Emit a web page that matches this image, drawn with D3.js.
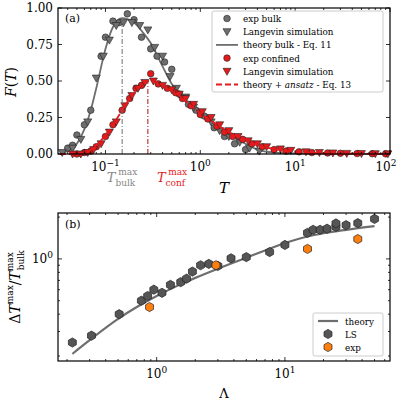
<!DOCTYPE html>
<html><head><meta charset="utf-8">
<script src="https://cdn.jsdelivr.net/npm/d3@7"></script>
<style>body{margin:0;background:#fff}text{font-family:"DejaVu Serif",serif}</style>
</head><body><svg id="c" width="400" height="400"></svg>
<script>
// panel (a)
const bulkTheoryT = [0.033, 0.04, 0.05, 0.06, 0.07, 0.08, 0.1, 0.12, 0.15, 0.2, 0.25, 0.3, 0.4, 0.5, 0.7, 1, 1.5, 2, 3, 4, 6, 10, 100]
const bulkTheoryF = [0.0, 0.02, 0.07, 0.17, 0.3, 0.45, 0.72, 0.87, 0.93, 0.9, 0.83, 0.76, 0.6, 0.48, 0.37, 0.28, 0.19, 0.14, 0.07, 0.03, 0.01, 0.004, 0]
const confTheoryT = [0.033, 0.05, 0.06, 0.07, 0.08, 0.1, 0.12, 0.15, 0.2, 0.25, 0.28, 0.35, 0.45, 0.6, 0.8, 1, 1.5, 2, 3, 4, 6, 10, 20, 40, 100]
const confTheoryF = [0, 0.0, 0.01, 0.03, 0.06, 0.13, 0.2, 0.3, 0.42, 0.48, 0.5, 0.49, 0.45, 0.4, 0.33, 0.28, 0.2, 0.15, 0.1, 0.06, 0.035, 0.015, 0.005, 0.002, 0]
const expBulkT = [0.04, 0.045, 0.05, 0.06, 0.07, 0.09, 0.1, 0.12, 0.14, 0.17, 0.2, 0.24, 0.3, 0.35, 0.42, 0.5, 0.6, 0.75, 0.9, 1.1, 1.4, 1.8, 2.3, 3]
const expBulkF = [0.04, 0.06, 0.13, 0.2, 0.3, 0.67, 0.8, 0.91, 0.9, 0.96, 0.92, 0.8, 0.72, 0.67, 0.63, 0.58, 0.41, 0.34, 0.3, 0.26, 0.18, 0.12, 0.07, 0.03]
const langBulkT = [0.035, 0.045, 0.055, 0.065, 0.08, 0.095, 0.11, 0.13, 0.155, 0.19, 0.23, 0.28, 0.33, 0.4, 0.48, 0.56, 0.7, 0.85, 1.0, 1.3, 1.6, 2, 2.6, 3.3, 4.2]
const langBulkF = [0.01, 0.04, 0.1, 0.22, 0.52, 0.67, 0.78, 0.88, 0.9, 0.9, 0.88, 0.85, 0.73, 0.67, 0.53, 0.45, 0.39, 0.32, 0.28, 0.22, 0.16, 0.12, 0.08, 0.04, 0.02]
const expConfT = [0.05, 0.06, 0.07, 0.08, 0.1, 0.12, 0.15, 0.18, 0.21, 0.24, 0.3, 0.36, 0.45, 0.55, 0.65, 0.8, 1.0, 1.2, 1.5, 1.8, 2.2, 2.8, 3.5, 4.5, 6, 8, 11, 15, 22, 30, 45, 65, 90]
const expConfF = [0, 0.01, 0.02, 0.05, 0.12, 0.2, 0.3, 0.38, 0.45, 0.47, 0.55, 0.48, 0.45, 0.42, 0.38, 0.33, 0.27, 0.24, 0.19, 0.15, 0.12, 0.1, 0.07, 0.05, 0.03, 0.02, 0.015, 0.01, 0.007, 0.005, 0.003, 0.002, 0.001]
const langConfT = [0.045, 0.055, 0.065, 0.075, 0.09, 0.11, 0.13, 0.16, 0.19, 0.22, 0.26, 0.32, 0.4, 0.5, 0.6, 0.7, 0.85, 1.05, 1.3, 1.6, 2, 2.5, 3.2, 4, 5, 7, 9, 13, 18, 25, 35, 50, 70, 95]
const langConfF = [0, 0.0, 0.01, 0.03, 0.07, 0.15, 0.22, 0.33, 0.4, 0.45, 0.49, 0.5, 0.47, 0.44, 0.41, 0.38, 0.34, 0.29, 0.25, 0.2, 0.16, 0.12, 0.09, 0.07, 0.05, 0.035, 0.025, 0.015, 0.01, 0.007, 0.004, 0.003, 0.002, 0.001]
const tMaxBulk = 0.15, fMaxBulk = 0.93
const tMaxConf = 0.28, fMaxConf = 0.5
const yTicksA = [0, 0.25, 0.5, 0.75, 1]
const legendA = ['exp bulk', 'Langevin simulation', 'theory bulk - Eq. 11', 'exp confined', 'Langevin simulation', 'theory + ansatz - Eq. 13']

// panel (b)
const lsL = [0.22, 0.31, 0.51, 0.76, 0.85, 0.95, 1.1, 1.28, 1.54, 1.71, 1.9, 2.2, 2.55, 3.0, 3.8, 5.0, 7.6, 10, 15, 16.6, 18.8, 21.3, 25, 25, 30, 37, 50]
const lsY = [0.25, 0.28, 0.40, 0.50, 0.54, 0.60, 0.57, 0.65, 0.68, 0.72, 0.81, 0.90, 0.92, 0.89, 1.01, 1.03, 1.12, 1.26, 1.54, 1.62, 1.62, 1.65, 1.7, 1.8, 1.75, 1.81, 1.94]
const expL = [0.88, 2.9, 15, 37]
const expY = [0.45, 0.90, 1.18, 1.39]
const thL = [0.22, 0.3, 0.5, 0.7, 1, 1.5, 2, 3, 5, 7, 10, 15, 20, 30, 50]
const thY = [0.207, 0.26, 0.37, 0.45, 0.54, 0.65, 0.73, 0.85, 1.02, 1.15, 1.3, 1.45, 1.53, 1.62, 1.72]

const svg = d3.select('#c')
const gray = '#6e6e6e'
const red = '#e41a1c'

function frame (g, left, right, top, bottom) {
  g.append('rect').attr('x', left).attr('y', top).attr('width', right - left).attr('height', bottom - top)
    .attr('fill', 'none').attr('stroke', '#000').attr('stroke-width', 1.2)
}
function tick (g, x1, y1, x2, y2) {
  g.append('line').attr('x1', x1).attr('y1', y1).attr('x2', x2).attr('y2', y2).attr('stroke', '#000').attr('stroke-width', 0.8)
}
function minorLog (lo, hi) {
  const out = []
  for (let e = Math.floor(Math.log10(lo)); e <= Math.ceil(Math.log10(hi)); e++) {
    for (let m = 1; m < 10; m++) { const v = m * Math.pow(10, e); if (v >= lo && v <= hi) out.push([v, m === 1]) }
  }
  return out
}
function tri (g, cx, cy, fill) {
  g.append('path').attr('d', `M${cx - 4},${cy - 3}L${cx + 4},${cy - 3}L${cx},${cy + 4}Z`)
    .attr('fill', fill).attr('stroke', '#222').attr('stroke-width', 0.6)
}
function hex (g, cx, cy, fill) {
  const pts = d3.range(6).map(i => { const a = Math.PI / 3 * i + Math.PI / 6; return [cx + 4.6 * Math.cos(a), cy + 4.6 * Math.sin(a)] })
  g.append('path').attr('d', 'M' + pts.join('L') + 'Z').attr('fill', fill).attr('stroke', '#222').attr('stroke-width', 0.7)
}

// ---- panel a
const ga = svg.append('g')
const xa = d3.scaleLog().domain([0.0316, 100]).range([58, 390])
const ya = d3.scaleLinear().domain([0, 1]).range([154, 8])
const smooth = (x, y) => d3.line().curve(d3.curveMonotoneX).x(d => x(d[0])).y(d => y(d[1]))

ga.append('path').attr('fill', 'none').attr('stroke', gray).attr('stroke-width', 1.8)
  .attr('d', smooth(xa, ya)(d3.zip(bulkTheoryT, bulkTheoryF)))
expBulkT.forEach((t, i) => ga.append('circle').attr('cx', xa(t)).attr('cy', ya(expBulkF[i])).attr('r', 3.3).attr('fill', gray).attr('stroke', '#222').attr('stroke-width', 0.6))
langBulkT.forEach((t, i) => tri(ga, xa(t), ya(langBulkF[i]), gray))
expConfT.forEach((t, i) => ga.append('circle').attr('cx', xa(t)).attr('cy', ya(expConfF[i])).attr('r', 3.3).attr('fill', red).attr('stroke', '#222').attr('stroke-width', 0.6))
langConfT.forEach((t, i) => tri(ga, xa(t), ya(langConfF[i]), red))
ga.append('path').attr('fill', 'none').attr('stroke', red).attr('stroke-width', 1.8).attr('stroke-dasharray', '6,3')
  .attr('d', smooth(xa, ya)(d3.zip(confTheoryT, confTheoryF)))
ga.append('line').attr('x1', xa(tMaxBulk)).attr('x2', xa(tMaxBulk)).attr('y1', ya(0)).attr('y2', ya(fMaxBulk))
  .attr('stroke', gray).attr('stroke-width', 1).attr('stroke-dasharray', '5,2,1,2')
ga.append('line').attr('x1', xa(tMaxConf)).attr('x2', xa(tMaxConf)).attr('y1', ya(0)).attr('y2', ya(fMaxConf))
  .attr('stroke', '#b01010').attr('stroke-width', 1).attr('stroke-dasharray', '5,2,1,2')

frame(ga, 58, 390, 8, 154)
minorLog(0.0316, 100).forEach(([v, maj]) => { const l = maj ? 4 : 2; tick(ga, xa(v), 154, xa(v), 154 - l); tick(ga, xa(v), 8, xa(v), 8 + l) })
yTicksA.forEach(v => { tick(ga, 58, ya(v), 62, ya(v)); tick(ga, 390, ya(v), 386, ya(v)) })
yTicksA.forEach(v => ga.append('text').attr('x', 53).attr('y', ya(v) + 4).attr('text-anchor', 'end').attr('font-size', 12).text(v.toFixed(2)))
;[-1, 0, 1, 2].forEach(e => {
  const t = ga.append('text').attr('x', xa(Math.pow(10, e)) - (e === 2 ? 4 : 0)).attr('y', 171).attr('text-anchor', 'middle').attr('font-size', 12)
  t.append('tspan').text('10'); t.append('tspan').attr('dy', -5).attr('font-size', 9).text(e < 0 ? '−1' : e)
})
ga.append('text').attr('x', 224).attr('y', 193).attr('text-anchor', 'middle').attr('font-size', 15).attr('font-style', 'italic').text('T')
const fl = ga.append('text').attr('transform', 'translate(16,82) rotate(-90)').attr('text-anchor', 'middle').attr('font-size', 14)
fl.append('tspan').attr('font-style', 'italic').text('F'); fl.append('tspan').text('('); fl.append('tspan').attr('font-style', 'italic').text('T'); fl.append('tspan').text(')')
ga.append('text').attr('x', 65).attr('y', 22).attr('font-size', 11).text('(a)')
function tLabel (x, color, sub) {
  const t = ga.append('text').attr('x', x).attr('y', 182).attr('text-anchor', 'middle').attr('fill', color).attr('font-size', 13)
  t.append('tspan').attr('font-style', 'italic').text('T')
  t.append('tspan').attr('dy', 4).attr('font-size', 9).text(sub)
  t.append('tspan').attr('dx', -17).attr('dy', -11).attr('font-size', 9).text('max')
}
tLabel(122, '#888', 'bulk')
tLabel(172, red, 'conf')
// legend a
ga.append('rect').attr('x', 212).attr('y', 11).attr('width', 171).attr('height', 81).attr('rx', 2)
  .attr('fill', '#fff').attr('fill-opacity', 0.85).attr('stroke', '#ccc')
legendA.forEach((s, i) => {
  const yy = 18.5 + i * 13.2
  const c = i < 3 ? gray : red
  if (i % 3 === 0) ga.append('circle').attr('cx', 227).attr('cy', yy).attr('r', 3.3).attr('fill', c).attr('stroke', '#222').attr('stroke-width', 0.6)
  if (i % 3 === 1) tri(ga, 227, yy, c)
  if (i % 3 === 2) ga.append('line').attr('x1', 216).attr('x2', 238).attr('y1', yy).attr('y2', yy).attr('stroke', c).attr('stroke-width', 1.8).attr('stroke-dasharray', i === 5 ? '6,3' : null)
  const t = ga.append('text').attr('x', 243).attr('y', yy + 3.5).attr('font-size', 8.8)
  if (i === 5) { t.append('tspan').text('theory + '); t.append('tspan').attr('font-style', 'italic').text('ansatz'); t.append('tspan').text(' - Eq. 13') } else t.text(s)
})

// ---- panel b
const gb = svg.append('g')
const xb = d3.scaleLog().domain([0.17, 66]).range([58, 390])
const yb = d3.scaleLog().domain([0.184, 2.14]).range([361, 213])
gb.append('path').attr('fill', 'none').attr('stroke', gray).attr('stroke-width', 2.2)
  .attr('d', smooth(xb, yb)(d3.zip(thL, thY)))
lsL.forEach((l, i) => hex(gb, xb(l), yb(lsY[i]), '#555'))
expL.forEach((l, i) => hex(gb, xb(l), yb(expY[i]), '#ff7f0e'))
frame(gb, 58, 390, 213, 361)
minorLog(0.17, 66).forEach(([v, maj]) => { const l = maj ? 4 : 2; tick(gb, xb(v), 361, xb(v), 361 - l); tick(gb, xb(v), 213, xb(v), 213 + l) })
minorLog(0.184, 2.14).forEach(([v, maj]) => { const l = maj ? 4 : 2; tick(gb, 58, yb(v), 58 + l, yb(v)); tick(gb, 390, yb(v), 390 - l, yb(v)) })
;[0, 1].forEach(e => {
  const t = gb.append('text').attr('x', xb(Math.pow(10, e))).attr('y', 378).attr('text-anchor', 'middle').attr('font-size', 12)
  t.append('tspan').text('10'); t.append('tspan').attr('dy', -5).attr('font-size', 9).text(e)
})
const ty = gb.append('text').attr('x', 53).attr('y', yb(1) + 4).attr('text-anchor', 'end').attr('font-size', 12)
ty.append('tspan').text('10'); ty.append('tspan').attr('dy', -5).attr('font-size', 9).text('0')
gb.append('text').attr('x', 224).attr('y', 398).attr('text-anchor', 'middle').attr('font-size', 13).text('Λ')
const lb = gb.append('text').attr('transform', 'translate(20,287) rotate(-90)').attr('text-anchor', 'middle').attr('font-size', 14)
lb.append('tspan').text('Δ'); lb.append('tspan').attr('font-style', 'italic').text('T')
lb.append('tspan').attr('dy', -7).attr('font-size', 9).text('max')
lb.append('tspan').attr('dy', 7).text('/'); lb.append('tspan').attr('font-style', 'italic').text('T')
lb.append('tspan').attr('dy', -7).attr('font-size', 9).text('max')
lb.append('tspan').attr('dx', -18).attr('dy', 11).attr('font-size', 9).text('bulk')
gb.append('text').attr('x', 65).attr('y', 228).attr('font-size', 11).text('(b)')
gb.append('rect').attr('x', 313).attr('y', 313).attr('width', 70).attr('height', 43).attr('rx', 2)
  .attr('fill', '#fff').attr('fill-opacity', 0.85).attr('stroke', '#ccc')
;['theory', 'LS', 'exp'].forEach((s, i) => {
  const yy = 321 + i * 13
  if (i === 0) gb.append('line').attr('x1', 318).attr('x2', 338).attr('y1', yy).attr('y2', yy).attr('stroke', gray).attr('stroke-width', 2.2)
  else hex(gb, 328, yy, i === 1 ? '#555' : '#ff7f0e')
  gb.append('text').attr('x', 345).attr('y', yy + 3.5).attr('font-size', 8.8).text(s)
})
</script></body></html>
